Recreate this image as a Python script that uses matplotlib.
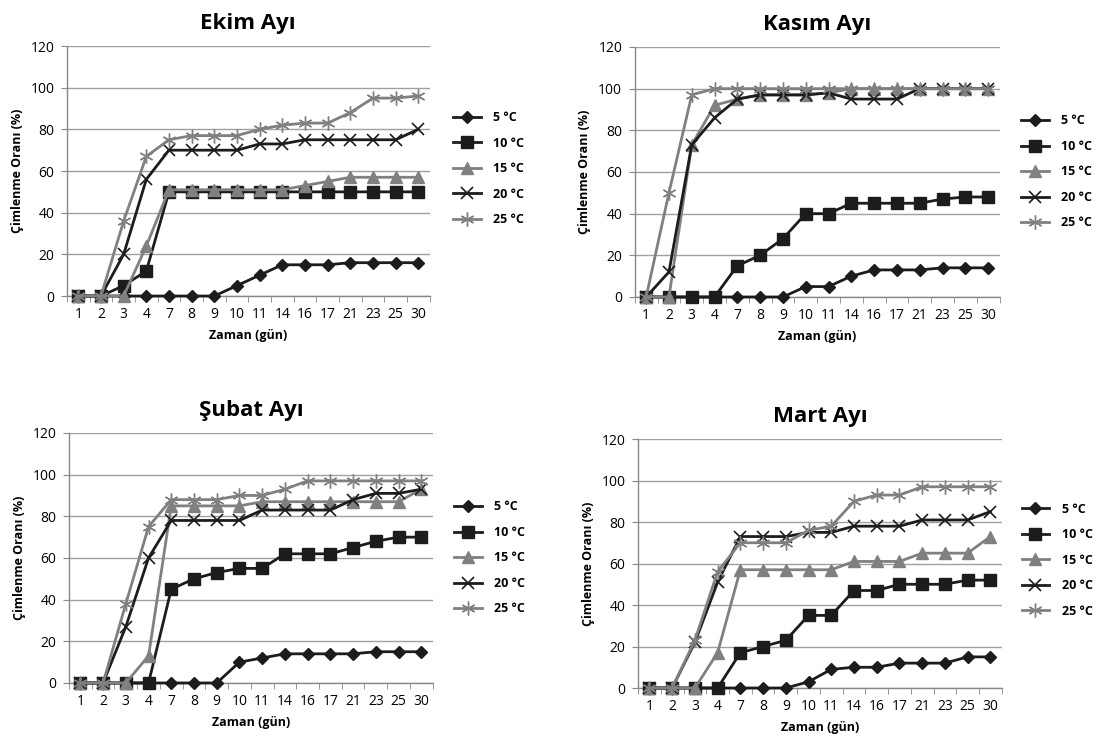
import numpy as np
import matplotlib
matplotlib.use("Agg")
import matplotlib.pyplot as plt
from matplotlib.ticker import FixedLocator, NullFormatter

plt.rcParams['font.family'] = ['Open Sans', 'DejaVu Sans']

days = ["1", "2", "3", "4", "7", "8", "9", "10", "11", "14", "16", "17", "21", "23", "25", "30"]
temps = ["5 °C", "10 °C", "15 °C", "20 °C", "25 °C"]

# Ekim
ekim_5 = [0, 0, 0, 0, 0, 0, 0, 5, 10, 15, 15, 15, 16, 16, 16, 16]
ekim_10 = [0, 0, 5, 12, 50, 50, 50, 50, 50, 50, 50, 50, 50, 50, 50, 50]
ekim_15 = [0, 0, 0, 24, 51, 51, 51, 51, 51, 51, 53, 55, 57, 57, 57, 57]
ekim_20 = [0, 0, 20, 56, 70, 70, 70, 70, 73, 73, 75, 75, 75, 75, 75, 80]
ekim_25 = [0, 0, 36, 67, 75, 77, 77, 77, 80, 82, 83, 83, 88, 95, 95, 96]

# Kasim
kasim_5 = [0, 0, 0, 0, 0, 0, 0, 5, 5, 10, 13, 13, 13, 14, 14, 14]
kasim_10 = [0, 0, 0, 0, 15, 20, 28, 40, 40, 45, 45, 45, 45, 47, 48, 48]
kasim_15 = [0, 0, 73, 92, 95, 97, 97, 97, 98, 100, 100, 100, 100, 100, 100, 100]
kasim_20 = [0, 12, 73, 86, 95, 97, 97, 97, 98, 95, 95, 95, 100, 100, 100, 100]
kasim_25 = [0, 50, 97, 100, 100, 100, 100, 100, 100, 100, 100, 100, 100, 100, 100, 100]

# Subat
subat_5 = [0, 0, 0, 0, 0, 0, 0, 10, 12, 14, 14, 14, 14, 15, 15, 15]
subat_10 = [0, 0, 0, 0, 45, 50, 53, 55, 55, 62, 62, 62, 65, 68, 70, 70]
subat_15 = [0, 0, 0, 13, 85, 85, 85, 85, 87, 87, 87, 87, 87, 87, 87, 93]
subat_20 = [0, 0, 27, 60, 78, 78, 78, 78, 83, 83, 83, 83, 88, 91, 91, 93]
subat_25 = [0, 0, 38, 75, 88, 88, 88, 90, 90, 93, 97, 97, 97, 97, 97, 97]

# Mart
mart_5 = [0, 0, 0, 0, 0, 0, 0, 3, 9, 10, 10, 12, 12, 12, 15, 15]
mart_10 = [0, 0, 0, 0, 17, 20, 23, 35, 35, 47, 47, 50, 50, 50, 52, 52]
mart_15 = [0, 0, 0, 17, 57, 57, 57, 57, 57, 61, 61, 61, 65, 65, 65, 73]
mart_20 = [0, 0, 22, 51, 73, 73, 73, 75, 75, 78, 78, 78, 81, 81, 81, 85]
mart_25 = [0, 0, 23, 56, 70, 70, 70, 76, 78, 90, 93, 93, 97, 97, 97, 97]

DARK = '#1c1c1c'
GRAY = '#808080'
styles = [
    dict(color=DARK, marker='D', markersize=6),
    dict(color=DARK, marker='s', markersize=8),
    dict(color=GRAY, marker='^', markersize=8),
    dict(color=DARK, marker='x', markersize=8, markeredgewidth=1.2),
    dict(color=GRAY, marker=(6, 2, 0), markersize=10, markeredgewidth=1.0),
]

panels = [
    ("Ekim Ayı", [ekim_5, ekim_10, ekim_15, ekim_20, ekim_25], [0.0608, 0.6005, 0.329, 0.3374], (1.065, 0.51)),
    ("Kasım Ayı", [kasim_5, kasim_10, kasim_15, kasim_20, kasim_25], [0.576, 0.5992, 0.331, 0.3374], (1.06, 0.50)),
    ("Şubat Ayı", [subat_5, subat_10, subat_15, subat_20, subat_25], [0.0626, 0.0783, 0.330, 0.3374], (1.06, 0.50)),
    ("Mart Ayı", [mart_5, mart_10, mart_15, mart_20, mart_25], [0.579, 0.0715, 0.330, 0.336], (1.055, 0.514)),
]

fig = plt.figure(figsize=(11.02, 7.41), dpi=100)

for title, series, rect, leg_pos in panels:
    ax = fig.add_axes(rect)
    x = np.arange(len(days))
    for vals, lab, st in zip(series, temps, styles):
        ax.plot(x, vals, linewidth=2.0, label=lab, clip_on=False, zorder=3, **st)

    ax.set_xlim(-0.5, len(days) - 0.5)
    ax.set_ylim(0, 120)
    ax.set_yticks(np.arange(0, 121, 20))
    ax.set_xticks(x)
    ax.set_xticklabels(days)
    ax.xaxis.set_minor_locator(FixedLocator(np.arange(-0.5, len(days), 1.0)))
    ax.xaxis.set_minor_formatter(NullFormatter())
    ax.tick_params(axis='x', which='major', length=0, labelsize=10, pad=8)
    ax.tick_params(axis='x', which='minor', length=4, color='#888888', direction='out')
    ax.tick_params(axis='y', length=4, color='#888888', labelsize=10, pad=5)
    ax.yaxis.grid(True, color='#a0a0a0', linewidth=1.0)
    ax.set_axisbelow(True)
    for s in ['top', 'right']:
        ax.spines[s].set_visible(False)
    for s in ['left', 'bottom']:
        ax.spines[s].set_color('#888888')
        ax.spines[s].set_linewidth(1.0)

    ax.set_title(title, fontsize=16, fontweight='bold', pad=12)
    ax.set_xlabel("Zaman (gün)", fontsize=9, fontweight='bold', labelpad=5)
    ax.set_ylabel("Çimlenme Oranı (%)", fontsize=9, fontweight='bold', labelpad=5)

    ax.legend(loc='center left', bbox_to_anchor=leg_pos, frameon=False,
              borderaxespad=0, borderpad=0, handlelength=2.2, handletextpad=1.0,
              labelspacing=1.0, prop=dict(size=9, weight='bold'))

fig.savefig("out.png", dpi=100)
